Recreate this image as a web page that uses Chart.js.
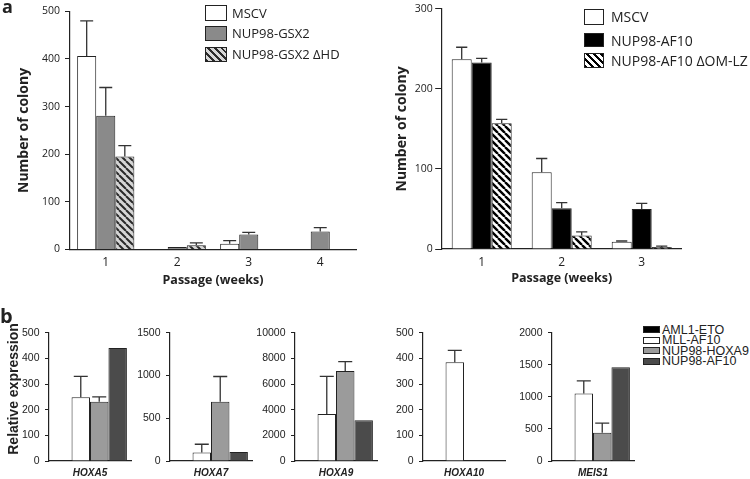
<!DOCTYPE html>
<html>
<head>
<meta charset="utf-8">
<script src="https://cdn.jsdelivr.net/npm/chart.js@4/dist/chart.umd.min.js"></script>
<style>
  body { margin: 0; background: #fff; }
  #fig { position: relative; width: 750px; height: 479px; overflow: hidden; color: #222; font-family: "Open Sans", sans-serif; }
  #fig canvas { position: absolute; }
  .panel { position: absolute; font-weight: bold; line-height: 1; }
  .leg { position: absolute; white-space: nowrap; }
  .leg .box { position: absolute; box-sizing: border-box; border: 1px solid #222; }
  .leg .txt { position: absolute; transform: translateY(-50%); line-height: 1; }
  #ytitleB { position: absolute; font: bold 14px "Liberation Sans", Arial, sans-serif; white-space: nowrap;
             transform: translate(-50%, -50%) rotate(-90deg); }
</style>
</head>
<body>
<div id="fig">
  <canvas id="chartA1" width="372" height="295" style="left:0;top:0"></canvas>
  <canvas id="chartA2" width="378" height="295" style="left:372px;top:0"></canvas>
  <div class="panel" style="left:2px;top:-3px;font-size:18px">a</div>
  <div class="panel" style="left:0;top:306px;font-size:20px">b</div>
  <div id="ytitleB" style="left:12.5px;top:389px">Relative expression</div>
  <div id="legA1" class="leg" style="left:0;top:0;font-size:13px"></div>
  <div id="legA2" class="leg" style="left:0;top:0;font-size:14px"></div>
  <div id="legB" class="leg" style="left:0;top:0;font:12.5px 'Liberation Sans', Arial, sans-serif"></div>
</div>
<script>
// ---- data: panel a, left (NUP98-GSX2) ----
const weeksA1 = ['1', '2', '3', '4'];
const mscvA1 = [406, null, 12, null];
const mscvA1Err = [74, null, 6.5, null];
const gsx2 = [281, 5.5, 31.5, 38];
const gsx2Err = [59, 0, 4.5, 8];
const gsx2Dhd = [195, 9, null, null];
const gsx2DhdErr = [23, 5, null, null];
const yMaxA1 = 500, yStepA1 = 100;

// ---- data: panel a, right (NUP98-AF10) ----
const weeksA2 = ['1', '2', '3'];
const mscvA2 = [237, 96, 9];
const mscvA2Err = [15, 17, 1];
const af10 = [233, 51, 50];
const af10Err = [5, 7, 7];
const af10Dom = [157, 17, 2.5];
const af10DomErr = [5, 4.5, 1];
const yMaxA2 = 300, yStepA2 = 100;

// ---- data: panel b ----
const genes = ['HOXA5', 'HOXA7', 'HOXA9', 'HOXA10', 'MEIS1'];
const aml1Eto = [null, null, null, null, null];
const mllAf10 = [248, 100, 3655, 385, 1052];
const mllAf10Err = [82, 96, 2945, 46, 197];
const nup98Hoxa9 = [231, 692, 7020, null, 440];
const nup98Hoxa9Err = [19, 296, 730, null, 151];
const nup98Af10 = [440, 104, 3180, null, 1461];
const geneMax = [500, 1500, 10000, 500, 2000];
const geneStep = [100, 500, 2000, 100, 500];

const INK = '#222';

function hatch(bg, fg, size, lw) {
  const c = document.createElement('canvas');
  c.width = c.height = size;
  const g = c.getContext('2d');
  g.fillStyle = bg;
  g.fillRect(0, 0, size, size);
  g.strokeStyle = fg;
  g.lineWidth = lw;
  g.beginPath();
  for (const x0 of [-size, 0, size]) {
    g.moveTo(x0, 0);
    g.lineTo(x0 + size, size);
  }
  g.stroke();
  return g.createPattern(c, 'repeat');
}

// upward error bars with a cap
const errorBars = {
  id: 'errorBars',
  afterDatasetsDraw(chart, args, opts) {
    const ctx = chart.ctx;
    const ys = chart.scales.y;
    chart.data.datasets.forEach((ds, di) => {
      if (!ds.errors) return;
      const meta = chart.getDatasetMeta(di);
      meta.data.forEach((bar, i) => {
        const v = ds.data[i], e = ds.errors[i];
        if (v == null || !e) return;
        const top = ys.getPixelForValue(v + e);
        const half = bar.width * (opts.cap || 0.3);
        ctx.save();
        ctx.strokeStyle = '#333';
        ctx.lineWidth = 1.3;
        ctx.beginPath();
        ctx.moveTo(bar.x, bar.y);
        ctx.lineTo(bar.x, top);
        ctx.moveTo(bar.x - half, top);
        ctx.lineTo(bar.x + half, top);
        ctx.stroke();
        ctx.restore();
      });
    });
  }
};

function bar(label, data, errors, fill) {
  return { label, data, errors, backgroundColor: fill, borderColor: INK, borderWidth: 1 };
}

function makeChart(id, cfg) {
  return new Chart(document.getElementById(id), {
    type: 'bar',
    data: { labels: cfg.labels, datasets: cfg.datasets },
    options: {
      responsive: false,
      animation: false,
      devicePixelRatio: 1,
      layout: { autoPadding: false, padding: cfg.padding },
      datasets: { bar: { categoryPercentage: cfg.catPct, barPercentage: 1 } },
      plugins: { legend: { display: false }, tooltip: { enabled: false }, errorBars: { cap: cfg.cap } },
      scales: {
        x: {
          grid: { display: false, drawTicks: false },
          border: { color: INK, width: 1.2 },
          ticks: { color: INK, font: cfg.xFont, padding: cfg.xPad },
          title: cfg.xTitle ? { display: true, text: cfg.xTitle, color: INK,
                   font: { family: 'Open Sans', size: 12.5, weight: 'bold' }, padding: { top: 0, bottom: cfg.xTitlePad } } : { display: false },
          afterFit: s => { s.height = cfg.xHeight; }
        },
        y: {
          min: 0, max: cfg.yMax,
          grid: { drawOnChartArea: false, tickLength: cfg.tickLen, color: INK },
          border: { color: INK, width: 1.2 },
          ticks: { stepSize: cfg.yStep, color: INK, font: cfg.yFont, padding: cfg.yPad, callback: v => String(v) },
          title: cfg.yTitle ? { display: true, text: cfg.yTitle, color: INK,
                   font: { family: 'Open Sans', size: 14, weight: 'bold' }, padding: { top: cfg.yTitlePad, bottom: 0 } } : { display: false },
          afterFit: s => { s.width = cfg.yWidth; }
        }
      }
    },
    plugins: [errorBars]
  });
}

const grayA = '#8a8a8a';
const hatchA1 = hatch('#d6d6d6', '#2a2a2a', 7, 2);
const hatchA2 = hatch('#ffffff', '#000000', 7, 2.4);

makeChart('chartA1', {
  labels: weeksA1,
  datasets: [
    bar('MSCV', mscvA1, mscvA1Err, '#ffffff'),
    bar('NUP98-GSX2', gsx2, gsx2Err, grayA),
    bar('NUP98-GSX2 \u0394HD', gsx2Dhd, gsx2DhdErr, hatchA1)
  ],
  padding: { top: 6, right: 16, bottom: 0, left: 0 },
  catPct: 0.8, cap: 0.34,
  yMax: yMaxA1, yStep: yStepA1, yWidth: 70, tickLen: 5, yPad: 5,
  yFont: { family: 'Open Sans', size: 10.5 },
  yTitle: 'Number of colony', yTitlePad: 16,
  xFont: { family: 'Open Sans', size: 12 }, xPad: 6, xHeight: 45.5,
  xTitle: 'Passage (weeks)', xTitlePad: 7.5
});

makeChart('chartA2', {
  labels: weeksA2,
  datasets: [
    bar('MSCV', mscvA2, mscvA2Err, '#ffffff'),
    bar('NUP98-AF10', af10, af10Err, '#000000'),
    bar('NUP98-AF10 \u0394OM-LZ', af10Dom, af10DomErr, hatchA2)
  ],
  padding: { top: 7.3, right: 68.3, bottom: 0, left: 0 },
  catPct: 0.75, cap: 0.28,
  yMax: yMaxA2, yStep: yStepA2, yWidth: 69.7, tickLen: 6.5, yPad: 2.5,
  yFont: { family: 'Open Sans', size: 10.5 },
  yTitle: 'Number of colony', yTitlePad: 21.5,
  xFont: { family: 'Open Sans', size: 12 }, xPad: 6, xHeight: 46,
  xTitle: 'Passage (weeks)', xTitlePad: 9
});

// panel b: one small chart per gene
const axisXB = [49.3, 170, 295, 423.3, 551.7];
const fig = document.getElementById('fig');
genes.forEach((gene, g) => {
  const cv = document.createElement('canvas');
  cv.id = 'chartB' + g;
  cv.width = 49 + 84;
  cv.height = 179;
  cv.style.left = (axisXB[g] - 49) + 'px';
  cv.style.top = '300px';
  fig.appendChild(cv);
  makeChart(cv.id, {
    labels: [gene],
    datasets: [
      bar('AML1-ETO', [aml1Eto[g]], null, '#000000'),
      bar('MLL-AF10', [mllAf10[g]], [mllAf10Err[g]], '#ffffff'),
      bar('NUP98-HOXA9', [nup98Hoxa9[g]], [nup98Hoxa9Err[g]], '#9b9b9b'),
      bar('NUP98-AF10', [nup98Af10[g]], null, '#4b4b4b')
    ],
    padding: { top: 32.7, right: 2, bottom: 0, left: 0 },
    catPct: 0.9, cap: 0.38,
    yMax: geneMax[g], yStep: geneStep[g], yWidth: 49, tickLen: 4, yPad: 5.5,
    yFont: { family: "'Liberation Sans', Arial", size: 10.5 },
    xFont: { family: "'Liberation Sans', Arial", size: 10, weight: 'bold', style: 'italic' }, xPad: 6.5, xHeight: 18
  });
});

// legends (HTML)
function legend(el, items) {
  const host = document.getElementById(el);
  items.forEach(it => {
    const b = document.createElement('div');
    b.className = 'box';
    Object.assign(b.style, { left: it.bx + 'px', top: it.by + 'px', width: it.bw + 'px', height: it.bh + 'px', background: it.fill });
    host.appendChild(b);
    const t = document.createElement('div');
    t.className = 'txt';
    t.textContent = it.text;
    Object.assign(t.style, { left: it.tx + 'px', top: it.ty + 'px' });
    host.appendChild(t);
  });
}
const cssHatchA1 = 'repeating-linear-gradient(45deg, #2a2a2a 0 1.6px, #d6d6d6 1.6px 4.9px)';
const cssHatchA2 = 'repeating-linear-gradient(45deg, #000 0 1.8px, #fff 1.8px 4.9px)';
legend('legA1', [
  { text: 'MSCV', fill: '#fff', bx: 205, by: 5, bw: 22, bh: 16, tx: 232, ty: 12.7 },
  { text: 'NUP98-GSX2', fill: grayA, bx: 205, by: 26, bw: 22, bh: 15, tx: 232, ty: 33.3 },
  { text: 'NUP98-GSX2 \u0394HD', fill: cssHatchA1, bx: 205, by: 47, bw: 22, bh: 15, tx: 232, ty: 54 }
]);
legend('legA2', [
  { text: 'MSCV', fill: '#fff', bx: 584, by: 9, bw: 20, bh: 16, tx: 611, ty: 17 },
  { text: 'NUP98-AF10', fill: '#000', bx: 584, by: 33, bw: 20, bh: 14, tx: 611, ty: 40.5 },
  { text: 'NUP98-AF10 \u0394OM-LZ', fill: cssHatchA2, bx: 584, by: 53, bw: 20, bh: 15, tx: 611, ty: 61 }
]);
legend('legB', [
  { text: 'AML1-ETO', fill: '#000', bx: 643, by: 326, bw: 16.5, bh: 7, tx: 662, ty: 329.5 },
  { text: 'MLL-AF10', fill: '#fff', bx: 643, by: 336.5, bw: 16.5, bh: 7, tx: 662, ty: 340 },
  { text: 'NUP98-HOXA9', fill: '#9b9b9b', bx: 643, by: 347, bw: 16.5, bh: 7, tx: 662, ty: 350.5 },
  { text: 'NUP98-AF10', fill: '#4b4b4b', bx: 643, by: 357.5, bw: 16.5, bh: 7, tx: 662, ty: 361 }
]);
</script>
</body>
</html>
